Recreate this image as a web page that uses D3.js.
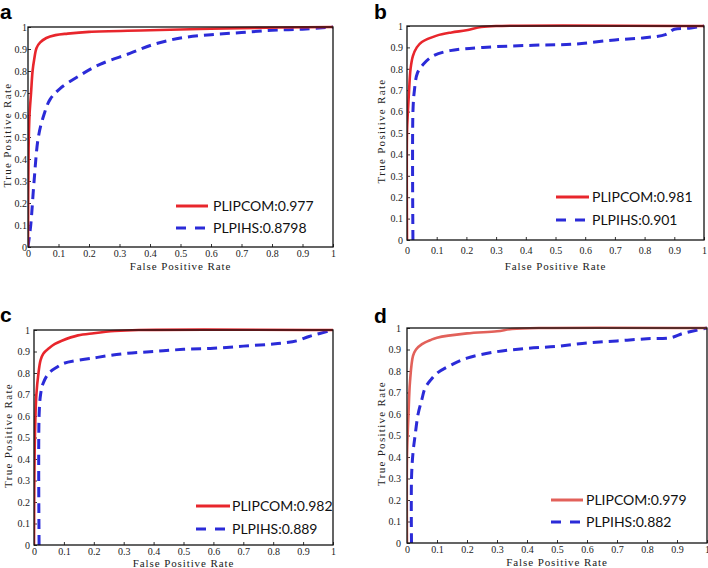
<!DOCTYPE html>
<html>
<head>
<meta charset="utf-8">
<script src="https://cdn.jsdelivr.net/npm/d3@7"></script>
<style>
  html, body { margin: 0; padding: 0; background: #fff; }
  svg { display: block; }
  .tick text { font-family: "Liberation Serif", "DejaVu Serif", serif; font-size: 10px; fill: #222; }
  .axtitle { font-family: "Liberation Serif", "DejaVu Serif", serif; font-size: 11px; letter-spacing: 0.9px; fill: #222; }
  .ytitle { letter-spacing: 1.3px; }
  .leg { font-family: Lato, "Liberation Sans", sans-serif; font-size: 14px; fill: #111; }
  .plabel { font-family: "Liberation Sans", Arial, sans-serif; font-size: 21px; font-weight: bold; fill: #000; }
</style>
</head>
<body>
<svg id="chart" width="708" height="568"></svg>
<script>
// ---- data ----
const tickValues = [0, 0.1, 0.2, 0.3, 0.4, 0.5, 0.6, 0.7, 0.8, 0.9, 1];
const tickLabels = ["0", "0.1", "0.2", "0.3", "0.4", "0.5", "0.6", "0.7", "0.8", "0.9", "1"];
const panelLetters = ["a", "b", "c", "d"];
const seriesNames = ["PLIPCOM", "PLPIHS"];
const xTitle = "False Positive Rate";
const yTitle = "True Positive Rate";

const aucA = ["0.977", "0.8798"];
const aucB = ["0.981", "0.901"];
const aucC = ["0.982", "0.889"];
const aucD = ["0.979", "0.882"];

// panel a
const redA_fpr = [0, 0.002, 0.005, 0.01, 0.015, 0.02, 0.028, 0.04, 0.06, 0.09, 0.13, 0.2, 0.4, 0.7, 1];
const redA_tpr = [0, 0.45, 0.6, 0.7, 0.8, 0.85, 0.905, 0.93, 0.95, 0.963, 0.97, 0.978, 0.985, 0.995, 1];
const blueA_fpr = [0, 0.009, 0.02, 0.034, 0.052, 0.072, 0.105, 0.17, 0.236, 0.334, 0.41, 0.5, 0.6, 0.7, 0.8, 0.9, 1];
const blueA_tpr = [0, 0.1, 0.3, 0.5, 0.6, 0.67, 0.72, 0.78, 0.83, 0.88, 0.92, 0.95, 0.965, 0.975, 0.985, 0.99, 1];
// panel b
const redB_fpr = [0, 0, 0.003, 0.007, 0.012, 0.02, 0.033, 0.05, 0.1, 0.15, 0.2, 0.25, 0.3, 1];
const redB_tpr = [0, 0.5, 0.6, 0.7, 0.8, 0.86, 0.9, 0.925, 0.955, 0.97, 0.98, 0.995, 1, 1];
const blueB_fpr = [0.02, 0.02, 0.025, 0.035, 0.054, 0.088, 0.145, 0.256, 0.425, 0.56, 0.7, 0.8, 0.87, 0.9, 0.95, 1];
const blueB_tpr = [0, 0.6, 0.7, 0.78, 0.82, 0.86, 0.885, 0.9, 0.91, 0.915, 0.935, 0.945, 0.96, 0.985, 0.99, 1];
// panel c
const redC_fpr = [0, 0.003, 0.008, 0.015, 0.022, 0.031, 0.05, 0.07, 0.093, 0.147, 0.2, 0.27, 0.35, 1];
const redC_tpr = [0, 0.5, 0.7, 0.8, 0.86, 0.89, 0.915, 0.935, 0.95, 0.975, 0.985, 0.995, 1, 1];
const blueC_fpr = [0.017, 0.017, 0.022, 0.03, 0.05, 0.08, 0.1, 0.2, 0.3, 0.4, 0.5, 0.6, 0.7, 0.8, 0.88, 0.92, 1];
const blueC_tpr = [0, 0.6, 0.7, 0.75, 0.8, 0.83, 0.845, 0.87, 0.89, 0.9, 0.91, 0.915, 0.925, 0.935, 0.95, 0.97, 1];
// panel d
const redD_fpr = [0, 0, 0.005, 0.01, 0.02, 0.03, 0.05, 0.08, 0.1, 0.2, 0.3, 0.35, 0.45, 1];
const redD_tpr = [0, 0.4, 0.6, 0.75, 0.87, 0.9, 0.925, 0.945, 0.955, 0.975, 0.985, 0.995, 1, 1];
const blueD_fpr = [0.015, 0.015, 0.02, 0.027, 0.037, 0.05, 0.06, 0.08, 0.1, 0.15, 0.2, 0.3, 0.4, 0.5, 0.6, 0.7, 0.8, 0.88, 0.92, 1];
const blueD_tpr = [0, 0.3, 0.42, 0.5, 0.6, 0.67, 0.72, 0.76, 0.79, 0.83, 0.86, 0.89, 0.905, 0.915, 0.93, 0.94, 0.95, 0.955, 0.975, 1];

// ---- layout (positions / styles) ----
const panels = [
  { letter: panelLetters[0], auc: aucA, red: [redA_fpr, redA_tpr], blue: [blueA_fpr, blueA_tpr], redColor: "#e8262c",
    L: 28, R: 333, T: 27, B: 247, xPad: 3, yPad: 1, letterX: 0, letterY: 19, yTitleX: 7, xTitleY: 270,
    legX1: 176, legX2: 208, legY1: 206, legY2: 228, legTX: 213 },
  { letter: panelLetters[1], auc: aucB, red: [redB_fpr, redB_tpr], blue: [blueB_fpr, blueB_tpr], redColor: "#e8262c",
    L: 407, R: 704, T: 26, B: 240, xPad: 7, yPad: 4, letterX: 374, letterY: 19, yTitleX: 381, xTitleY: 270,
    legX1: 556, legX2: 589, legY1: 197, legY2: 220, legTX: 592 },
  { letter: panelLetters[2], auc: aucC, red: [redC_fpr, redC_tpr], blue: [blueC_fpr, blueC_tpr], redColor: "#e8262c",
    L: 34, R: 333, T: 330, B: 545, xPad: 3, yPad: 4, letterX: 0, letterY: 322, yTitleX: 8, xTitleY: 567,
    legX1: 196, legX2: 230, legY1: 506, legY2: 529, legTX: 232 },
  { letter: panelLetters[3], auc: aucD, red: [redD_fpr, redD_tpr], blue: [blueD_fpr, blueD_tpr], redColor: "#e2615a",
    L: 407, R: 707, T: 328, B: 543, xPad: 3, yPad: 6, letterX: 374, letterY: 323, yTitleX: 381, xTitleY: 566,
    legX1: 551, legX2: 583, legY1: 500, legY2: 522, legTX: 586 }
];
const blueColor = "#2b2bd8";

const svg = d3.select("#chart");

panels.forEach(p => {
  const x = d3.scaleLinear().domain([0, 1]).range([p.L, p.R]);
  const y = d3.scaleLinear().domain([0, 1]).range([p.B, p.T]);
  const g = svg.append("g");

  // axes with inward ticks
  const xAxis = d3.axisBottom(x).tickValues(tickValues).tickFormat((d, i) => tickLabels[i])
    .tickSizeInner(-3).tickSizeOuter(0).tickPadding(p.xPad);
  const yAxis = d3.axisLeft(y).tickValues(tickValues).tickFormat((d, i) => tickLabels[i])
    .tickSizeInner(-3).tickSizeOuter(0).tickPadding(p.yPad);
  const gx = g.append("g").attr("transform", `translate(0,${p.B})`).call(xAxis);
  const gy = g.append("g").attr("transform", `translate(${p.L},0)`).call(yAxis);
  [gx, gy].forEach(a => {
    a.select(".domain").remove();
    a.selectAll(".tick line").attr("stroke", "#333").attr("stroke-width", 1);
    a.attr("font-family", null).attr("font-size", null);
  });

  const line = d3.line().x(d => x(d[0])).y(d => y(d[1])).curve(d3.curveCatmullRom.alpha(0.5));
  const clipId = "clip-" + p.letter;
  g.append("clipPath").attr("id", clipId).append("rect")
    .attr("x", p.L).attr("y", p.T - 2).attr("width", p.R - p.L + 2).attr("height", p.B - p.T + 3);

  const bluePts = p.blue[0].map((v, i) => [v, p.blue[1][i]]);
  const redPts = p.red[0].map((v, i) => [v, p.red[1][i]]);

  g.append("path").datum(bluePts).attr("d", line).attr("fill", "none")
    .attr("stroke", blueColor).attr("stroke-width", 3).attr("stroke-dasharray", "10,6")
    .attr("clip-path", `url(#${clipId})`);
  g.append("path").datum(redPts).attr("d", line).attr("fill", "none")
    .attr("stroke", p.redColor).attr("stroke-width", 2.6)
    .attr("clip-path", `url(#${clipId})`);

  // frame
  g.append("rect").attr("x", p.L).attr("y", p.T).attr("width", p.R - p.L).attr("height", p.B - p.T)
    .attr("fill", "none").attr("stroke", "#111").attr("stroke-width", 1.3);

  // titles
  g.append("text").attr("class", "axtitle").attr("x", (p.L + p.R) / 2).attr("y", p.xTitleY)
    .attr("text-anchor", "middle").text(xTitle);
  g.append("text").attr("class", "axtitle ytitle")
    .attr("transform", `translate(${p.yTitleX + 4},${(p.T + p.B) / 2 - 2}) rotate(-90)`)
    .attr("text-anchor", "middle").text(yTitle);

  g.append("text").attr("class", "plabel").attr("x", p.letterX).attr("y", p.letterY).text(p.letter);

  // legend
  g.append("line").attr("x1", p.legX1).attr("x2", p.legX2).attr("y1", p.legY1).attr("y2", p.legY1)
    .attr("stroke", p.redColor).attr("stroke-width", 3);
  g.append("line").attr("x1", p.legX1).attr("x2", p.legX2).attr("y1", p.legY2).attr("y2", p.legY2)
    .attr("stroke", blueColor).attr("stroke-width", 3).attr("stroke-dasharray", "10,9");
  g.append("text").attr("class", "leg").attr("x", p.legTX).attr("y", p.legY1 + 5).text(seriesNames[0] + ":" + p.auc[0]);
  g.append("text").attr("class", "leg").attr("x", p.legTX).attr("y", p.legY2 + 5).text(seriesNames[1] + ":" + p.auc[1]);
});
</script>
</body>
</html>
